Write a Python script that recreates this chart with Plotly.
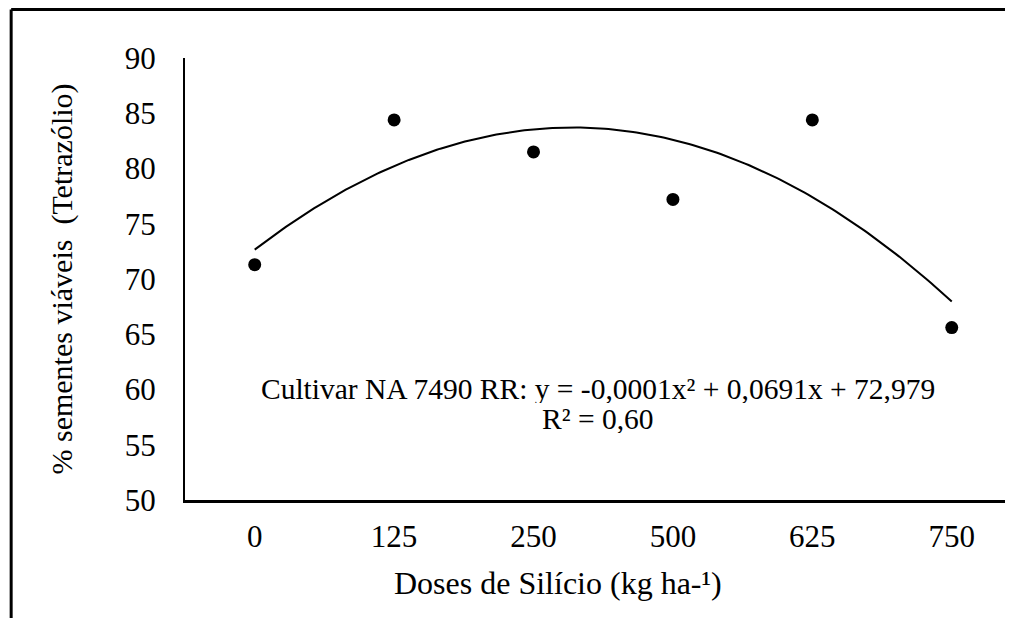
import numpy as np
import plotly.graph_objects as go

doses = ["0", "125", "250", "500", "625", "750"]
viaveis = [71.3, 84.4, 81.5, 77.2, 84.4, 65.6]
y_ticks = [50, 55, 60, 65, 70, 75, 80, 85, 90]

idx = np.arange(len(doses))
coef = np.polyfit(idx, viaveis, 2)
xs = np.linspace(0, len(doses) - 1, 200)
ys = np.polyval(coef, xs)

FONT = "Liberation Serif, Times New Roman, serif"

fig = go.Figure()
fig.add_trace(go.Scatter(x=xs, y=ys, mode="lines",
                         line=dict(color="black", width=2), hoverinfo="skip"))
fig.add_trace(go.Scatter(x=idx, y=viaveis, mode="markers",
                         marker=dict(color="black", size=13)))

fig.update_layout(
    width=997, height=610,
    margin=dict(l=177, r=0, t=50, b=118),
    paper_bgcolor="white", plot_bgcolor="white",
    showlegend=False,
    font=dict(family=FONT, size=31, color="black"),
    xaxis=dict(range=[-0.5, 5.382], tickvals=list(idx), ticktext=doses,
               showgrid=False, zeroline=False, showline=True,
               linecolor="black", linewidth=3,
               ticks="outside", ticklen=7, tickcolor="rgba(0,0,0,0)"),
    yaxis=dict(range=[50, 90], tickvals=y_ticks,
               showgrid=False, zeroline=False, showline=True,
               linecolor="black", linewidth=2,
               ticks="outside", ticklen=21, tickcolor="rgba(0,0,0,0)",
               title=dict(text="% sementes viáveis  (Tetrazólio)", standoff=43,
                          font=dict(size=30))),
    annotations=[
        dict(x=0.5037, y=(492 - 381) / 442, xref="paper", yref="paper",
             text="Cultivar NA 7490 RR: y = -0,0001x² + 0,0691x + 72,979",
             showarrow=False, font=dict(size=29.5), yanchor="middle",
             height=28),
        dict(x=0.5037, y=(492 - 411) / 442, xref="paper", yref="paper",
             text="R² = 0,60",
             showarrow=False, font=dict(size=29.5), yanchor="middle",
             height=28),
        dict(x=(550 - 177) / 820, y=(492 - 575) / 442, xref="paper", yref="paper",
             text="Doses de Silício (kg ha-¹)",
             showarrow=False, font=dict(size=32), yanchor="middle"),
    ],
    shapes=[
        dict(type="line", xref="paper", yref="paper",
             x0=-0.212, x1=-0.212, y0=-0.3, y1=1.1097,
             line=dict(color="black", width=3)),
        dict(type="line", xref="paper", yref="paper",
             x0=-0.212, x1=1.0, y0=1.1097, y1=1.1097,
             line=dict(color="black", width=3)),
    ],
)

fig.write_html("out.html")
